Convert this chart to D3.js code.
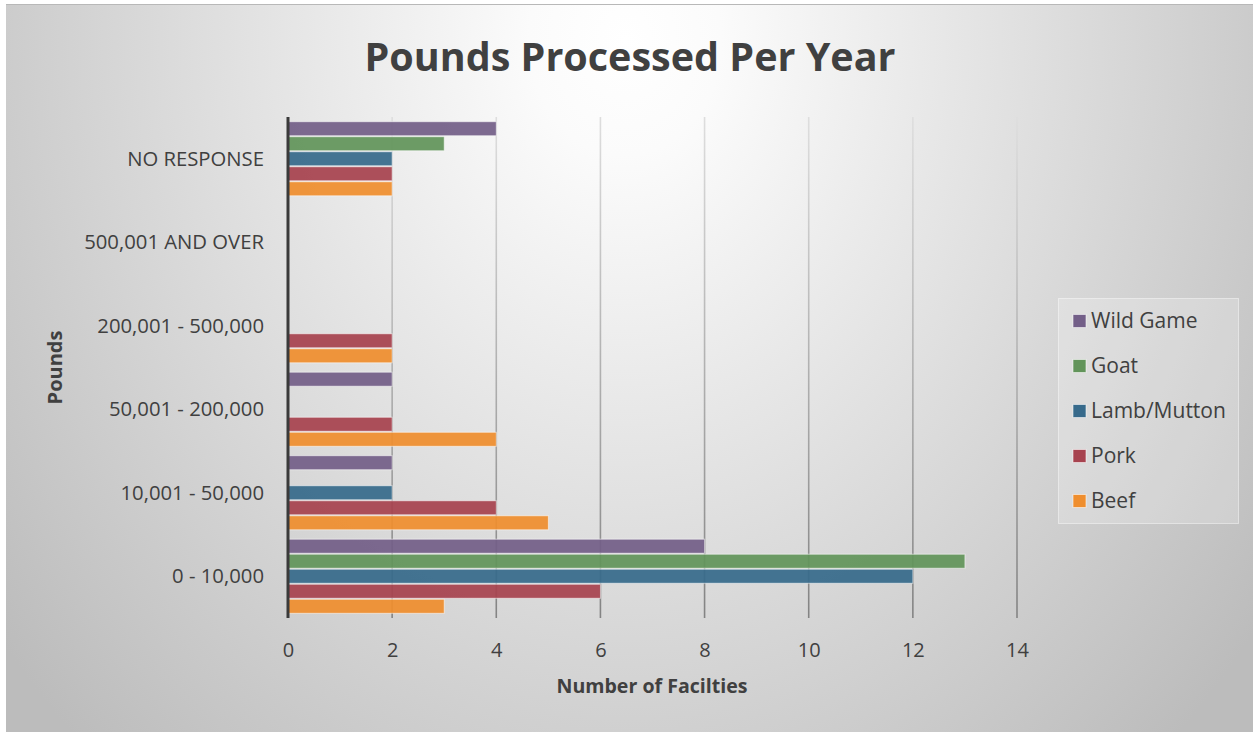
<!DOCTYPE html>
<html>
<head>
<meta charset="utf-8">
<script src="https://cdn.jsdelivr.net/npm/d3@7/dist/d3.min.js"></script>
<style>
  html, body { margin: 0; padding: 0; background: #ffffff; }
  svg { display: block; }
  text { font-family: "Open Sans", "Noto Sans", sans-serif; fill: #404040; }
</style>
</head>
<body>
<svg id="chart" width="1253" height="732"></svg>
<script>
// Size brackets, top to bottom
const categories = [
  "NO RESPONSE",
  "500,001 AND OVER",
  "200,001 - 500,000",
  "50,001 - 200,000",
  "10,001 - 50,000",
  "0 - 10,000"
];

// Series, in the order the bars sit within each bracket (top to bottom)
const seriesNames = ["Wild Game", "Goat", "Lamb/Mutton", "Pork", "Beef"];
const seriesColors = ["#735f88", "#62945a", "#376a8b", "#a7434f", "#ef8e2e"];

// Number of facilities per bracket, one array per series
const wildGame  = [4, 0, 0, 2, 2, 8];
const goat      = [3, 0, 0, 0, 0, 13];
const lambMutton= [2, 0, 0, 0, 2, 12];
const pork      = [2, 0, 2, 2, 4, 6];
const beef      = [2, 0, 2, 4, 5, 3];
const seriesValues = [wildGame, goat, lambMutton, pork, beef];

const xTicks = [0, 2, 4, 6, 8, 10, 12, 14];

const titleText = "Pounds Processed Per Year";
const xTitle = "Number of Facilties";
const yTitle = "Pounds";

const svg = d3.select("#chart");
const defs = svg.append("defs");

// Chart-area background: soft elliptical glow from the top centre
const bg = defs.append("radialGradient")
  .attr("id", "bgGrad")
  .attr("gradientUnits", "userSpaceOnUse")
  .attr("cx", 625).attr("cy", 40).attr("r", 800)
  .attr("gradientTransform", "translate(625,40) scale(1,1.2) translate(-625,-40)");
bg.append("stop").attr("offset", 0).attr("stop-color", "#ffffff");
bg.append("stop").attr("offset", 0.12).attr("stop-color", "#fbfbfb");
bg.append("stop").attr("offset", 1).attr("stop-color", "#bcbcbc");

const plot = { left: 288, right: 1017, top: 117, bottom: 618 };

// Gridlines fade from light at the top to darker at the bottom
const gg = defs.append("linearGradient")
  .attr("id", "gridGrad")
  .attr("gradientUnits", "userSpaceOnUse")
  .attr("x1", 0).attr("y1", plot.top).attr("x2", 0).attr("y2", plot.bottom);
gg.append("stop").attr("offset", 0).attr("stop-color", "#dedede");
gg.append("stop").attr("offset", 1).attr("stop-color", "#838383");

svg.append("rect")
  .attr("x", 6).attr("y", 4).attr("width", 1253).attr("height", 740)
  .attr("fill", "url(#bgGrad)");
svg.append("line")
  .attr("x1", 6).attr("x2", 1253).attr("y1", 4.5).attr("y2", 4.5)
  .attr("stroke", "#b8b8b8").attr("stroke-width", 1);

const x = d3.scaleLinear().domain([0, 14]).range([plot.left, plot.right]);
const y0 = d3.scaleBand().domain(categories).range([plot.top, plot.bottom]).padding(0);
const y1 = d3.scaleBand().domain(seriesNames).range([0, y0.bandwidth()])
  .paddingInner(0).paddingOuter(0.28);

// Vertical gridlines
svg.append("g").selectAll("line")
  .data(xTicks.filter(t => t > 0))
  .join("line")
  .attr("x1", d => x(d)).attr("x2", d => x(d))
  .attr("y1", plot.top).attr("y2", plot.bottom)
  .attr("stroke", "url(#gridGrad)")
  .attr("stroke-width", 1.6);

// Bars
const groups = svg.append("g").selectAll("g")
  .data(categories)
  .join("g")
  .attr("transform", d => `translate(0,${y0(d)})`);

groups.selectAll("rect")
  .data((c, ci) => seriesNames.map((s, si) => ({ s, si, v: seriesValues[si][ci] })))
  .join("rect")
  .filter(d => d.v > 0)
  .attr("x", x(0))
  .attr("y", d => y1(d.s) + 0.5)
  .attr("width", d => x(d.v) - x(0))
  .attr("height", y1.bandwidth() - 1)
  .attr("fill", d => seriesColors[d.si])
  .attr("fill-opacity", 0.93)
  .attr("stroke", "rgba(255,255,255,0.55)")
  .attr("stroke-width", 1);

// Category axis line
svg.append("line")
  .attr("x1", plot.left).attr("x2", plot.left)
  .attr("y1", plot.top).attr("y2", plot.bottom)
  .attr("stroke", "#3a3a3a").attr("stroke-width", 3);

// X axis labels
const xAxis = d3.axisBottom(x).tickValues(xTicks).tickSize(0).tickPadding(0);
const xg = svg.append("g").attr("transform", `translate(0,${plot.bottom})`).call(xAxis);
xg.select(".domain").remove();
xg.selectAll("text")
  .attr("y", 39).attr("dy", 0)
  .style("font-size", "20px")
  .style("fill", "#404040")
  .style("font-family", "'Open Sans', sans-serif");

// Y axis labels
const yAxis = d3.axisLeft(y0).tickSize(0).tickPadding(0);
const yg = svg.append("g").attr("transform", `translate(264,0)`).call(yAxis);
yg.select(".domain").remove();
yg.selectAll("text")
  .attr("dy", "0.35em")
  .style("font-size", "20.3px")
  .style("fill", "#404040")
  .style("font-family", "'Open Sans', sans-serif");

// Title
svg.append("text")
  .attr("x", 630).attr("y", 71)
  .attr("text-anchor", "middle")
  .style("font-size", "39.5px").style("font-weight", "bold")
  .text(titleText);

// Axis titles
svg.append("text")
  .attr("x", 652).attr("y", 693)
  .attr("text-anchor", "middle")
  .attr("textLength", 191).attr("lengthAdjust", "spacingAndGlyphs")
  .style("font-size", "20px").style("font-weight", "bold")
  .text(xTitle);

svg.append("text")
  .attr("transform", "translate(62,367.5) rotate(-90)")
  .attr("text-anchor", "middle")
  .style("font-size", "20px").style("font-weight", "bold")
  .text(yTitle);

// Legend
const legend = svg.append("g");
legend.append("rect")
  .attr("x", 1058.5).attr("y", 298.5).attr("width", 180).attr("height", 225)
  .attr("fill", "rgba(255,255,255,0.22)")
  .attr("stroke", "rgba(255,255,255,0.45)");

const items = legend.selectAll("g.item")
  .data(seriesNames)
  .join("g")
  .attr("class", "item")
  .attr("transform", (d, i) => `translate(1073,${321 + i * 45})`);
items.append("rect")
  .attr("x", 0).attr("y", -6.5).attr("width", 13).attr("height", 13)
  .attr("fill", (d, i) => seriesColors[i])
  .attr("stroke", "rgba(255,255,255,0.55)");
items.append("text")
  .attr("x", 18).attr("dy", "0.35em")
  .style("font-size", "21px")
  .text(d => d);
</script>
</body>
</html>
